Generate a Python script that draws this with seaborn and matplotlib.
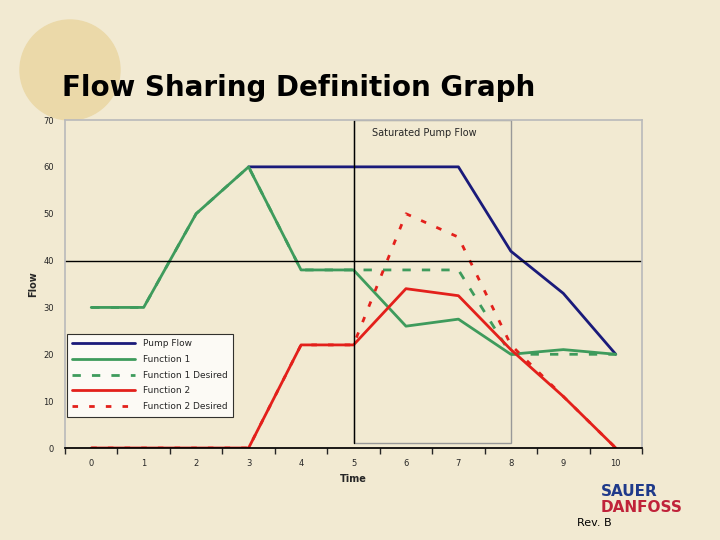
import matplotlib
matplotlib.use("Agg")
import matplotlib.pyplot as plt
import seaborn as sns
import numpy as np
import pandas as pd
from matplotlib.patches import Ellipse, Rectangle

time = list(range(11))
pump_flow = [np.nan, np.nan, np.nan, 60, 60, 60, 60, 60, 42, 33, 20]
function1 = [30, 30, 50, 60, 38, 38, 26, 27.5, 20, 21, 20]
function1_desired = [30, 30, 50, 60, 38, 38, 38, 38, 20, 20, 20]
function2 = [0, 0, 0, 0, 22, 22, 34, 32.5, 21, 11, 0]
function2_desired = [0, 0, 0, 0, 22, 22, 50, 45, 22, 11, 0]
yticks = [0, 10, 20, 30, 40, 50, 60, 70]

bg = "#F2EAD2"
sns.set_theme(style="white")
plt.rcParams['font.family'] = ['DejaVu Sans']
fig = plt.figure(figsize=(7.2, 5.4), dpi=100, facecolor=bg)
fig.add_artist(Ellipse((70/720, 1-70/540), 100/720, 100/540,
               transform=fig.transFigure, color="#EBD9A9", zorder=0))
ax = fig.add_axes([65/720, 92/540, 577/720, 328/540])
ax.set_facecolor(bg)

df = pd.DataFrame({"Time": time, "Pump Flow": pump_flow, "Function 1": function1,
                   "Function 1 Desired": function1_desired, "Function 2": function2,
                   "Function 2 Desired": function2_desired})
styles = {"Pump Flow": ("#1A1A7A", "-"), "Function 1": ("#3E9B5C", "-"),
          "Function 1 Desired": ("#3E9B5C", (0, (3, 4))), "Function 2": ("#E3201B", "-"),
          "Function 2 Desired": ("#E3201B", (0, (2, 4)))}
for name, (c, ls) in styles.items():
    sns.lineplot(data=df, x="Time", y=name, ax=ax, color=c, linestyle=ls,
                 linewidth=2, label=name)

ax.axhline(40, color="black", lw=1)
ax.add_patch(Rectangle((5, 1), 3, 69, fill=False, edgecolor="#999999", lw=1))
ax.plot([5, 5], [1, 70], color="black", lw=1)
ax.text(5.35, 66.5, "Saturated Pump Flow", fontsize=7)

ax.set_xlim(-0.5, 10.5)
ax.set_ylim(0, 70)
ax.set_xticks(time)
ax.set_xticklabels([str(t) for t in time], fontsize=6)
ax.set_xticks(np.arange(-0.5, 10.6, 1), minor=True)
ax.tick_params(axis="x", which="major", length=0, pad=8)
ax.tick_params(axis="x", which="minor", length=4, direction="out", bottom=True)
ax.set_yticks(yticks)
ax.set_yticklabels([str(y) for y in yticks], fontsize=6)
ax.tick_params(axis="y", length=0, pad=8)
ax.set_xlabel("Time", fontsize=7, fontweight="bold")
ax.set_ylabel("Flow", fontsize=7, fontweight="bold")
for s in ["top", "right", "left"]:
    ax.spines[s].set_color("#BBBBBB")
ax.spines["bottom"].set_color("black")

leg = ax.legend(loc="lower left", bbox_to_anchor=(0.0, 0.09), fontsize=6.5,
                frameon=True, fancybox=False, facecolor="white", edgecolor="black",
                handlelength=7, labelspacing=0.75, borderpad=0.6, borderaxespad=0.2)
leg.get_frame().set_linewidth(0.8)

fig.text(62/720, 1-88/540, "Flow Sharing Definition Graph", fontsize=20,
         fontweight="bold", va="center", color="black")
fig.text(601/720, 1-491/540, "SAUER", fontsize=11, fontweight="bold", color="#1F3A8A", va="center")
fig.text(601/720, 1-508/540, "DANFOSS", fontsize=11, fontweight="bold", color="#C0223A", va="center")
fig.text(577/720, 1-523/540, "Rev. B", fontsize=8, color="black", va="center")
fig.savefig("out.png", dpi=100, facecolor=bg)
